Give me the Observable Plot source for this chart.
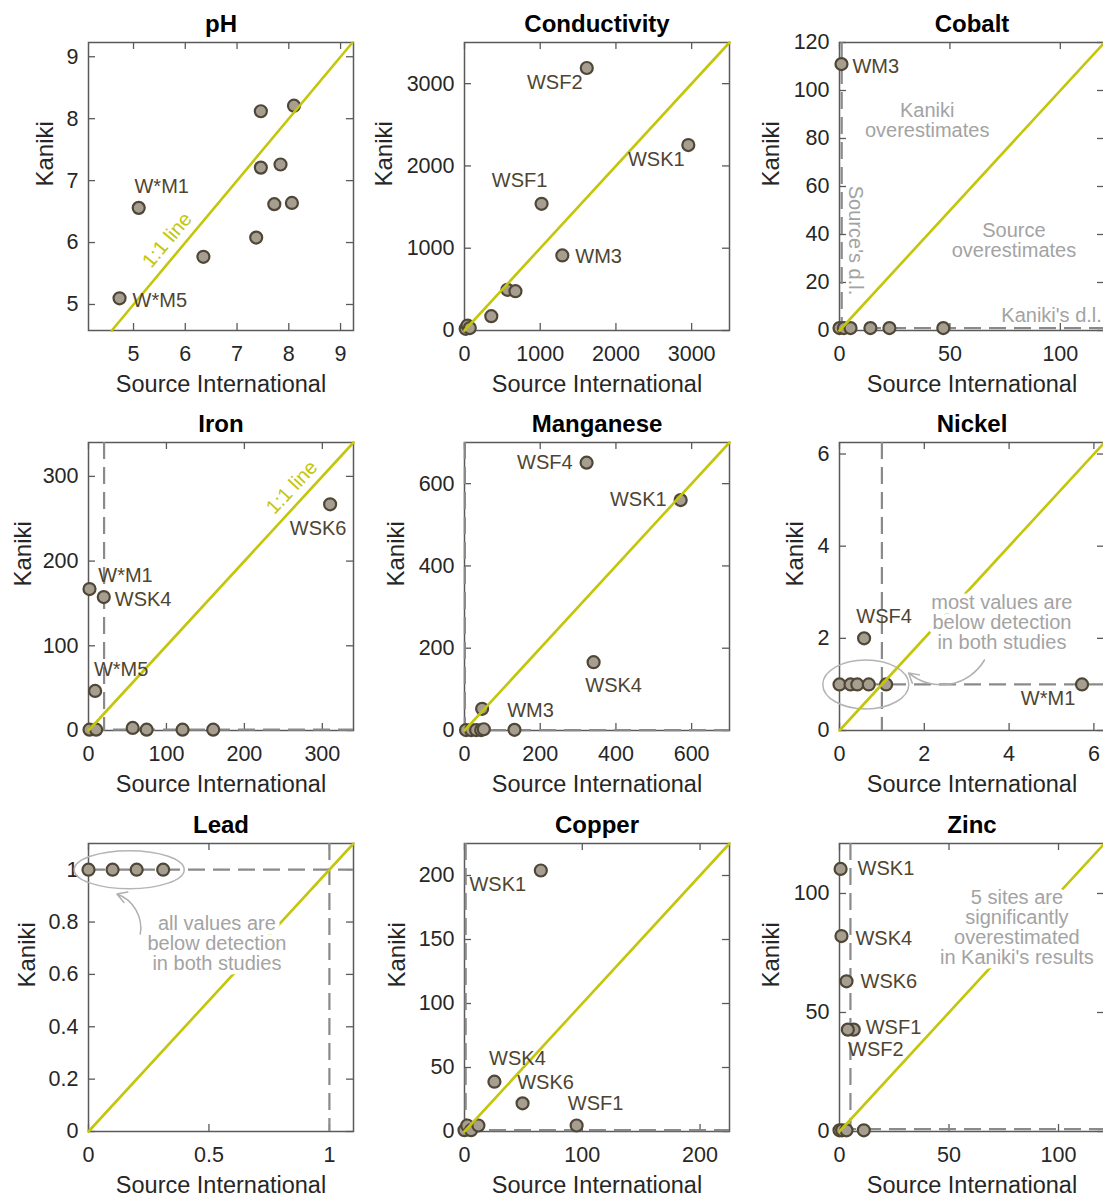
<!DOCTYPE html>
<html>
<head>
<meta charset="utf-8">
<script src="https://cdn.jsdelivr.net/npm/d3@7"></script>
<script src="https://cdn.jsdelivr.net/npm/@observablehq/plot@0.6"></script>
<style>
  html, body { margin: 0; padding: 0; background: #fff; overflow: hidden; }
  #wrap { position: relative; width: 1103px; height: 1198px; overflow: hidden; }
  #wrap svg { position: absolute; overflow: visible; }
</style>
</head>
<body>
<div id="wrap"></div>
<script>
// ---------------- DATA ----------------
const titles = ["pH", "Conductivity", "Cobalt", "Iron", "Manganese", "Nickel", "Lead", "Copper", "Zinc"];
const xAxisLabel = "Source International";
const yAxisLabel = "Kaniki";

// pH
const phSource = [4.73, 5.10, 6.35, 7.37, 7.46, 7.46, 7.72, 7.84, 8.06, 8.10];
const phKaniki = [5.10, 6.56, 5.77, 6.08, 8.12, 7.21, 6.62, 7.26, 6.64, 8.21];
const phSites  = ["W*M5", "W*M1", "", "", "", "", "", "", "", ""];
const phTicksX = [5, 6, 7, 8, 9];
const phTicksY = [5, 6, 7, 8, 9];

// Conductivity
const condSource = [15, 40, 70, 354, 566, 673, 1018, 1292, 1615, 2956];
const condKaniki = [20, 60, 30, 174, 494, 478, 1540, 912, 3190, 2254];
const condSites  = ["", "", "", "", "", "", "WSF1", "WM3", "WSF2", "WSK1"];
const condTicks  = [0, 1000, 2000, 3000];

// Cobalt
const coSource = [0.9, 0, 2, 5, 14, 22.6, 47];
const coKaniki = [111, 1, 1, 1, 1, 1, 1];
const coSites  = ["WM3", "", "", "", "", "", ""];
const coTicksX = [0, 50, 100];
const coTicksY = [0, 20, 40, 60, 80, 100, 120];

// Iron
const feSource = [1.3, 19.6, 8.5, 310, 1.3, 9.8, 56.7, 74.6, 120.7, 160];
const feKaniki = [167, 157.5, 46.7, 267, 1, 1, 3, 1, 1, 1];
const feSites  = ["W*M1", "WSK4", "W*M5", "WSK6", "", "", "", "", "", ""];
const feTicks  = [0, 100, 200, 300];

// Manganese
const mnSource = [322.5, 571, 341, 46.6, 132, 4, 17.6, 30.8, 44, 51];
const mnKaniki = [651, 560, 166, 52.8, 1.6, 1, 1, 1, 1, 3];
const mnSites  = ["WSF4", "WSK1", "WSK4", "", "WM3", "", "", "", "", ""];
const mnTicks  = [0, 200, 400, 600];

// Nickel
const niSource = [0.58, 5.72, 0, 0.26, 0.42, 0.69, 1.1];
const niKaniki = [2.0, 1.0, 1, 1, 1, 1, 1];
const niSites  = ["WSF4", "W*M1", "", "", "", "", ""];
const niTicks  = [0, 2, 4, 6];

// Lead
const pbSource = [0, 0.1, 0.2, 0.31];
const pbKaniki = [1, 1, 1, 1];
const pbSites  = ["", "", "", ""];
const pbTicksX = [0, 0.5, 1];
const pbTicksY = [0, 0.2, 0.4, 0.6, 0.8, 1];

// Copper
const cuSource = [64.8, 25.4, 49.3, 95.2, 0, 2.3, 5.6, 11.8];
const cuKaniki = [203.9, 38.9, 22, 4.7, 1, 4.7, 1, 4.7];
const cuSites  = ["WSK1", "WSK4", "WSK6", "WSF1", "", "", "", ""];
const cuTicksX = [0, 100, 200];
const cuTicksY = [0, 50, 100, 150, 200];

// Zinc
const znSource = [0.5, 0.9, 3.2, 6.5, 3.8, 0, 1.2, 3.2, 11.1];
const znKaniki = [110.3, 82.1, 63.1, 42.8, 42.8, 0.5, 0.5, 0.5, 0.5];
const znSites  = ["WSK1", "WSK4", "WSK6", "WSF1", "WSF2", "", "", "", ""];
const znTicks  = [0, 50, 100];

// detection limits (Source's, Kaniki's)
const detectionLimits = {
  Cobalt: [1, 1], Iron: [20, 1], Manganese: [1, 1], Nickel: [1, 1],
  Lead: [1, 1], Copper: [1, 1], Zinc: [5, 1]
};

// annotation texts
const noteCoKaniki = "Kaniki\noverestimates";
const noteCoSource = "Source\noverestimates";
const noteCoSourceDL = "Source's d.l.";
const noteCoKanikiDL = "Kaniki's d.l.";
const noteNi = "most values are\nbelow detection\nin both studies";
const notePb = "all values are\nbelow detection\nin both studies";
const noteZn = "5 sites are\nsignificantly\noverestimated\nin Kaniki's results";
const oneOneText = "1:1 line";

// ---------------- STYLE / LAYOUT ----------------
const FONT = "'Liberation Sans', Arial, Helvetica, sans-serif";
const YELLOW = "#c3c60a";
const DOT_FILL = "#a69f91";
const DOT_STROKE = "#4f4636";
const LABEL = "#4e4531";
const NOTE = "#a3a3a3";
const DASH = "#8a8a8a";
const AXIS = "#5a5a5a";
const FW = 265, FH = 288;
const ML = 88, MT = 42, MR = 22, MB = 68;
const COLX = [0, 375.6, 751.2];
const ROWY = [0, 400.3, 800.6];

function ellipseSymbol(rx, ry) {
  const k = 0.5523;
  return {
    draw(c) {
      c.moveTo(rx, 0);
      c.bezierCurveTo(rx, ry * k, rx * k, ry, 0, ry);
      c.bezierCurveTo(-rx * k, ry, -rx, ry * k, -rx, 0);
      c.bezierCurveTo(-rx, -ry * k, -rx * k, -ry, 0, -ry);
      c.bezierCurveTo(rx * k, -ry, rx, -ry * k, rx, 0);
      c.closePath();
    }
  };
}

function panel(cfg) {
  const pts = cfg.source.map((s, i) => ({x: s, y: cfg.kaniki[i], site: cfg.sites[i]}));
  const lo = Math.max(cfg.xDomain[0], cfg.yDomain[0]);
  const hi = Math.min(cfg.xDomain[1], cfg.yDomain[1]);
  const marks = [];
  marks.push(Plot.frame({stroke: AXIS, strokeWidth: 1.5}));
  // inward ticks on four sides
  marks.push(Plot.tickY(cfg.yTicks, {y: d => d, insetRight: FW - 7, stroke: AXIS, strokeWidth: 1.3}));
  marks.push(Plot.tickY(cfg.yTicks, {y: d => d, insetLeft: FW - 7, stroke: AXIS, strokeWidth: 1.3}));
  marks.push(Plot.tickX(cfg.xTicks, {x: d => d, insetTop: FH - 7, stroke: AXIS, strokeWidth: 1.3}));
  marks.push(Plot.tickX(cfg.xTicks, {x: d => d, insetBottom: FH - 7, stroke: AXIS, strokeWidth: 1.3}));
  // tick labels
  marks.push(Plot.text(cfg.xTicks, {x: d => d, frameAnchor: "bottom", lineAnchor: "middle", dy: 24, text: d => String(d), fontSize: 21.5, fill: "#262626"}));
  marks.push(Plot.text(cfg.yTicks, {y: d => d, frameAnchor: "left", lineAnchor: "middle", dx: -10, textAnchor: "end", text: d => String(d), fontSize: 21.5, fill: "#262626"}));
  // title & axis labels
  marks.push(Plot.text([cfg.title], {frameAnchor: "top", lineAnchor: "middle", dy: -18, fontSize: 24, fontWeight: "bold", fill: "#000"}));
  marks.push(Plot.text([xAxisLabel], {frameAnchor: "bottom", lineAnchor: "middle", dy: 53.5, fontSize: 23.5, fill: "#262626"}));
  marks.push(Plot.text([yAxisLabel], {frameAnchor: "left", lineAnchor: "middle", dx: -cfg.ylabelOffset, rotate: -90, fontSize: 24, fill: "#262626"}));
  // detection limits
  const dl = detectionLimits[cfg.title];
  if (dl) {
    marks.push(Plot.ruleX([dl[0]], {x: d => d, stroke: DASH, strokeWidth: 2.2, strokeDasharray: "17,8"}));
    marks.push(Plot.ruleY([dl[1]], {y: d => d, stroke: DASH, strokeWidth: 2.2, strokeDasharray: "17,8"}));
  }
  // ellipse
  if (cfg.ellipse) {
    const e = cfg.ellipse;
    marks.push(Plot.dot([e.at], {x: d => d[0], y: d => d[1], symbol: ellipseSymbol(e.rx, e.ry), fill: "none", stroke: "#b4b4b4", strokeWidth: 1.5}));
  }
  // points
  marks.push(Plot.dot(pts, {x: "x", y: "y", r: 6, fill: DOT_FILL, stroke: DOT_STROKE, strokeWidth: 2.2}));
  // 1:1 line
  marks.push(Plot.line([lo, hi], {x: d => d, y: d => d, stroke: YELLOW, strokeWidth: 2.6}));
  // notes
  for (const n of (cfg.notes || [])) {
    marks.push(Plot.text([n], {x: d => d.at[0], y: d => d.at[1], text: d => d.text, fill: n.color || NOTE,
      fontSize: 20, lineHeight: 1.0, rotate: n.rotate || 0, textAnchor: n.anchor || "middle",
      stroke: n.halo ? "white" : undefined, strokeWidth: n.halo ? 9 : undefined}));
  }
  // arrow
  if (cfg.arrow) {
    const a = cfg.arrow;
    marks.push(Plot.arrow([a], {x1: d => d.from[0], y1: d => d.from[1], x2: d => d.to[0], y2: d => d.to[1], bend: a.bend, stroke: "#b0b0b0", strokeWidth: 1.5, headLength: 11}));
  }
  // point labels
  for (const [site, pl] of Object.entries(cfg.labels || {})) {
    const d = pts.filter(p => p.site === site);
    marks.push(Plot.text(d, {x: "x", y: "y", text: "site", dx: pl[0], dy: pl[1], textAnchor: pl[2] || "middle", fontSize: 20, fill: LABEL}));
  }
  const svg = Plot.plot({
    width: ML + FW + MR, height: MT + FH + MB,
    marginLeft: ML, marginRight: MR, marginTop: MT, marginBottom: MB,
    x: {domain: cfg.xDomain, axis: null},
    y: {domain: cfg.yDomain, axis: null},
    style: {fontFamily: FONT, background: "transparent", overflow: "visible"},
    marks
  });
  svg.style.left = COLX[cfg.col] + "px";
  svg.style.top = ROWY[cfg.row] + "px";
  document.getElementById("wrap").appendChild(svg);
}

panel({title: titles[0], row: 0, col: 0, xDomain: [4.13, 9.25], yDomain: [4.58, 9.23],
  xTicks: phTicksX, yTicks: phTicksY, source: phSource, kaniki: phKaniki, sites: phSites, ylabelOffset: 43,
  labels: {"W*M1": [23, -21], "W*M5": [13, 2, "start"]},
  notes: [{text: oneOneText, at: [5.65, 6.04], rotate: -50, color: YELLOW}]});

panel({title: titles[1], row: 0, col: 1, xDomain: [0, 3500], yDomain: [0, 3500],
  xTicks: condTicks, yTicks: condTicks, source: condSource, kaniki: condKaniki, sites: condSites, ylabelOffset: 80,
  labels: {"WSF2": [-32, 15], "WSK1": [-32, 15], "WSF1": [-22, -23], "WM3": [13, 1, "start"]}});

panel({title: titles[2], row: 0, col: 2, xDomain: [0, 120], yDomain: [0, 120],
  xTicks: coTicksX, yTicks: coTicksY, source: coSource, kaniki: coKaniki, sites: coSites, ylabelOffset: 68,
  labels: {"WM3": [11, 2, "start"]},
  notes: [
    {text: noteCoKaniki, at: [39.7, 87.3]},
    {text: noteCoSource, at: [79, 37.4]},
    {text: noteCoSourceDL, at: [7.2, 37.5], rotate: 90},
    {text: noteCoKanikiDL, at: [118.8, 6.3], anchor: "end"}
  ]});

panel({title: titles[3], row: 1, col: 0, xDomain: [0, 340], yDomain: [0, 340],
  xTicks: feTicks, yTicks: feTicks, source: feSource, kaniki: feKaniki, sites: feSites, ylabelOffset: 65,
  labels: {"WSK6": [-12, 24], "W*M1": [36, -13], "WSK4": [11, 3, "start"], "W*M5": [26, -21]},
  notes: [{text: oneOneText, at: [261, 287], rotate: -47, color: YELLOW}]});

panel({title: titles[4], row: 1, col: 1, xDomain: [0, 700], yDomain: [0, 700],
  xTicks: mnTicks, yTicks: mnTicks, source: mnSource, kaniki: mnKaniki, sites: mnSites, ylabelOffset: 68.6,
  labels: {"WSF4": [-14, 0, "end"], "WSK1": [-14, -1, "end"], "WSK4": [20, 23], "WM3": [16, -19]}});

panel({title: titles[5], row: 1, col: 2, xDomain: [0, 6.25], yDomain: [0, 6.25],
  xTicks: niTicks, yTicks: niTicks, source: niSource, kaniki: niKaniki, sites: niSites, ylabelOffset: 44,
  labels: {"WSF4": [20, -22], "W*M1": [-34, 14]},
  ellipse: {at: [0.62, 1.0], rx: 43, ry: 24.5},
  arrow: {from: [3.42, 1.53], to: [1.63, 1.25], bend: 50},
  notes: [{text: noteNi, at: [3.83, 2.35], halo: true}]});

panel({title: titles[6], row: 2, col: 0, xDomain: [0, 1.1], yDomain: [0, 1.1],
  xTicks: pbTicksX, yTicks: pbTicksY, source: pbSource, kaniki: pbKaniki, sites: pbSites, ylabelOffset: 61,
  ellipse: {at: [0.169, 1.0], rx: 55, ry: 19},
  arrow: {from: [0.215, 0.754], to: [0.118, 0.907], bend: -40},
  notes: [{text: notePb, at: [0.533, 0.716], halo: true}]});

panel({title: titles[7], row: 2, col: 1, xDomain: [0, 225], yDomain: [0, 225],
  xTicks: cuTicksX, yTicks: cuTicksY, source: cuSource, kaniki: cuKaniki, sites: cuSites, ylabelOffset: 67.6,
  labels: {"WSK1": [-43, 14], "WSK4": [23, -23], "WSK6": [23, -21], "WSF1": [19, -22]}});

panel({title: titles[8], row: 2, col: 2, xDomain: [0, 121], yDomain: [0, 121],
  xTicks: znTicks, yTicks: znTicks, source: znSource, kaniki: znKaniki, sites: znSites, ylabelOffset: 68,
  labels: {"WSK1": [17, 0, "start"], "WSK4": [14, 3, "start"], "WSK6": [14, 0, "start"], "WSF1": [12, -2, "start"], "WSF2": [28, 20]},
  notes: [{text: noteZn, at: [81, 85.7], halo: true}]});
</script>
</body>
</html>
